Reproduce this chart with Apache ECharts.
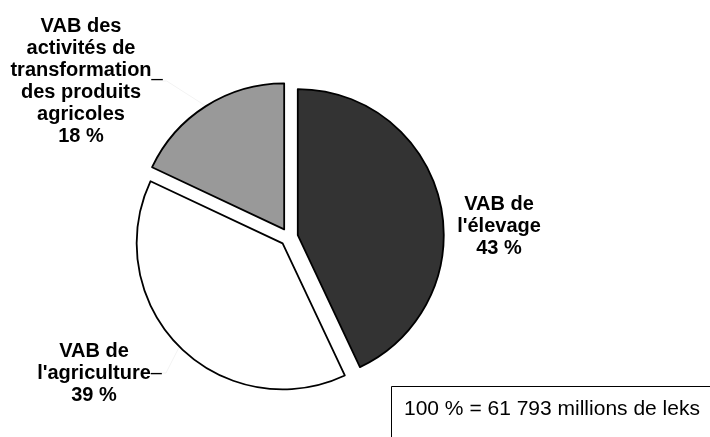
<!DOCTYPE html>
<html>
<head>
<meta charset="utf-8">
<script src="https://cdn.jsdelivr.net/npm/echarts@6/dist/echarts.min.js"></script>
<style>
  html, body { margin: 0; padding: 0; background: #fff; }
  #chart { width: 710px; height: 437px; }
</style>
</head>
<body>
<div id="chart"></div>
<script>
// parts of the VAB (value added), clockwise from 12 o'clock
const categories = [
  "VAB de\nl'élevage",
  "VAB de\nl'agriculture",
  "VAB des\nactivités de\ntransformation\ndes produits\nagricoles"
];
const shares = [43, 39, 18];
const sliceColors = ["#333333", "#ffffff", "#999999"];
const totalNote = "100 % = 61 793 millions de leks";

// label centres and the little leader dash after one line of the label
const labelPos = [[499, 226], [94, 373], [81, 81]];
const labelDash = [null, { line: 1, ch: "–" }, { line: 2, ch: "_" }];

const pieCenter = [289, 237];
const pieRadius = 146;
const explode = 9;

const chart = echarts.init(document.getElementById("chart"));

function labelText(i) {
  const lines = categories[i].split("\n").concat([shares[i] + " %"]);
  const dash = labelDash[i];
  return lines.map(function (l, k) {
    if (dash && dash.line === k) {
      return "{h|" + dash.ch + "}{b|" + l + "}{d|" + dash.ch + "}";
    }
    return "{b|" + l + "}";
  }).join("\n");
}

const font = "Liberation Sans, Arial";
const richStyles = {
  b: { fontFamily: font, fontWeight: "bold", fontSize: 20, lineHeight: 22, color: "#000", align: "center" },
  d: { fontFamily: font, fontSize: 20, lineHeight: 22, color: "#000", align: "center" },
  h: { fontFamily: font, fontSize: 20, lineHeight: 22, color: "rgba(0,0,0,0)", align: "center" }
};

// one pie per slice, each pushed out along the middle of its own slice
const total = shares.reduce(function (a, b) { return a + b; }, 0);
let acc = 0;
const series = shares.map(function (v, i) {
  const mid = (acc + v / 2) / total * 2 * Math.PI;
  acc += v;
  const cx = pieCenter[0] + explode * Math.sin(mid);
  const cy = pieCenter[1] - explode * Math.cos(mid);
  return {
    type: "pie",
    center: [cx, cy],
    radius: [0, pieRadius],
    startAngle: 90,
    clockwise: true,
    avoidLabelOverlap: false,
    silent: true,
    emphasis: { disabled: true },
    label: { show: false },
    labelLine: { show: false },
    labelLayout: function (params) {
      const p = labelPos[params.dataIndex];
      return { x: p[0], y: p[1], align: "center", verticalAlign: "middle" };
    },
    data: categories.map(function (name, j) {
      if (j !== i) {
        return {
          name: name,
          value: shares[j],
          itemStyle: { color: "rgba(0,0,0,0)", borderWidth: 0 }
        };
      }
      return {
        name: name,
        value: shares[j],
        itemStyle: { color: sliceColors[j], borderColor: "#000", borderWidth: 1.8 },
        label: {
          show: true,
          position: "outside",
          formatter: function () { return labelText(j); },
          rich: richStyles
        },
        labelLine: {
          show: j !== 0,
          length: 20,
          length2: 4,
          lineStyle: { color: "#f3f3f3", width: 1 }
        }
      };
    })
  };
});

chart.setOption({
  animation: false,
  title: {
    text: totalNote,
    left: 391,
    top: 386,
    padding: [13, 40, 40, 13],
    borderColor: "#000",
    borderWidth: 1,
    textStyle: {
      fontFamily: font,
      fontWeight: "normal",
      fontSize: 21,
      color: "#000"
    }
  },
  series: series
});
</script>
</body>
</html>
